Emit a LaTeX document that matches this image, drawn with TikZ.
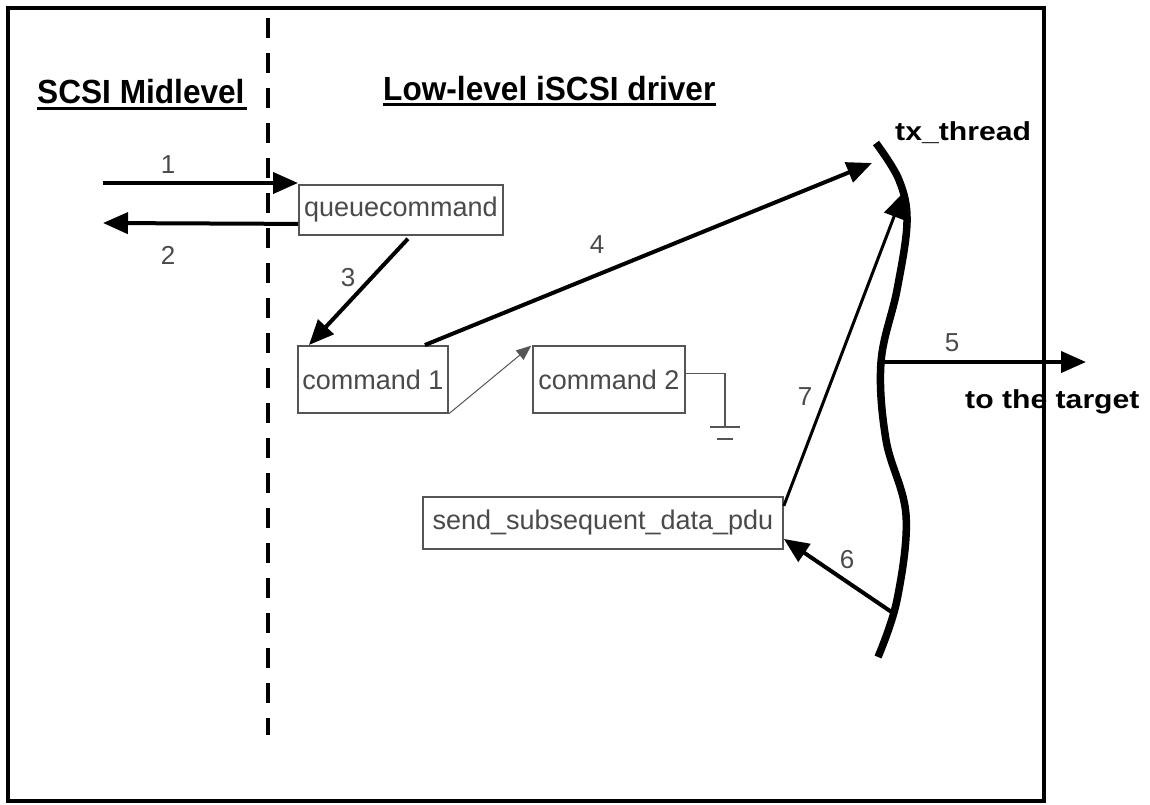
\documentclass[tikz,border=0pt]{standalone}
\usepackage{fontspec}
\setmainfont{Liberation Sans}
\usetikzlibrary{arrows.meta}
\definecolor{txtgray}{HTML}{4A4A4A}
\definecolor{linegray}{HTML}{555555}
\begin{document}
\begin{tikzpicture}[x=1pt,y=-1pt,
  box/.style={draw=linegray, line width=1.8pt, fill=white, text=txtgray,
    font=\fontsize{27}{30}\selectfont, inner sep=0pt, anchor=north west},
  heading/.style={font=\fontsize{31}{34}\selectfont\bfseries, anchor=base west, inner sep=0pt,
    xscale=1.02, yscale=1.08, transform shape},
  side/.style={font=\fontsize{26}{30}\selectfont\bfseries, anchor=base west, inner sep=0pt,
    xscale=1.16, transform shape},
  num/.style={text=txtgray, font=\fontsize{26}{30}\selectfont, inner sep=0pt},
  flow/.style={line width=4pt, -{Triangle[length=25pt,width=21pt]}},
  thin flow/.style={draw=linegray, line width=1pt, -{Triangle[length=15pt,width=12pt]}, shorten >=1pt},
  ulined/.style={line width=3pt}
]
\useasboundingbox (0,0) rectangle (1150,804);

% headings with underlines
\node[heading] (mid) at (37,103) {SCSI Midlevel};
\node[heading] (low) at (383,100) {Low-level iSCSI driver};
\draw[ulined] ([yshift=-5pt]mid.base west) -- ([yshift=-5pt,xshift=2pt]mid.base east);
\draw[ulined] ([yshift=-4pt]low.base west) -- ([yshift=-4pt]low.base east);

% boundary between the layers
\coordinate (dtop) at (268,18);
\coordinate (dbot) at (268,735);
\draw[line width=4pt, dash pattern=on 20pt off 15pt] (dtop) -- (dbot);

% driver routines
\node[box, minimum width=204pt, minimum height=50pt] (queue) at (298,184) {queuecommand};
\node[box, minimum width=150pt, minimum height=67pt] (cmd1) at (297,345) {command 1};
\node[box, minimum width=152pt, minimum height=67pt] (cmd2) at (532,345) {command 2};
\node[box, minimum width=360pt, minimum height=52pt] (pdu) at (422,496) {send\_subsequent\_data\_pdu};

% transmit thread
\coordinate (th0) at (876,143);
\coordinate (t4) at (872,163);
\coordinate (t7) at (903,193);
\coordinate (t5) at (881,362);
\coordinate (t6) at (893,613);
\draw[line width=7.5pt] plot[smooth, tension=0.6] coordinates
  {(876,143) (899,180) (907,222) (897,290) (881,362) (886,440) (906,515) (897,600) (878,657)};
\node[side] (tx) at (895,140) {tx\_thread};

% outside endpoints
\coordinate (in1) at (103,183);
\coordinate (out2) at (103,223);
\coordinate (tgt) at (1086,362);
\coordinate (gnd) at (725,427);

% flows
\draw[flow] (in1) -- ([yshift=1pt]queue.north west);
\draw[flow] ([yshift=-14pt]queue.west) -- (out2);
\draw[flow] ([xshift=7pt,yshift=-3pt]queue.south) -- ([xshift=12pt]cmd1.north west);
\draw[flow] ([xshift=52pt]cmd1.north) -- (t4);
\draw[flow] (t5) -- (tgt);
\draw[flow] (t6) -- ([yshift=-16pt]pdu.east);
\draw[flow, line width=3pt] ([yshift=17pt]pdu.east) -- (t7);
\draw[thin flow] (cmd1.south east) -- (cmd2.north west);

% command 2 is grounded
\draw[draw=linegray, line width=1.8pt] ([yshift=6pt]cmd2.east) -| (gnd);
\draw[draw=linegray, line width=1.8pt] ([xshift=-15pt]gnd) -- ([xshift=15pt]gnd);
\draw[draw=linegray, line width=1.8pt] ([xshift=-8pt,yshift=-12pt]gnd) -- ([xshift=8pt,yshift=-12pt]gnd);

% step numbers
\node[num] (n1) at (168,165) {1};
\node[num] (n2) at (168,255) {2};
\node[num] (n3) at (348,278) {3};
\node[num] (n4) at (597,245) {4};
\node[num] (n5) at (952,343) {5};
\node[num] (n6) at (847,560) {6};
\node[num] (n7) at (805,397) {7};

\node[side] (target) at (965,408) {to the target};

% frame
\draw[line width=4pt] (8,8) rectangle (1044,801);
\end{tikzpicture}
\end{document}
